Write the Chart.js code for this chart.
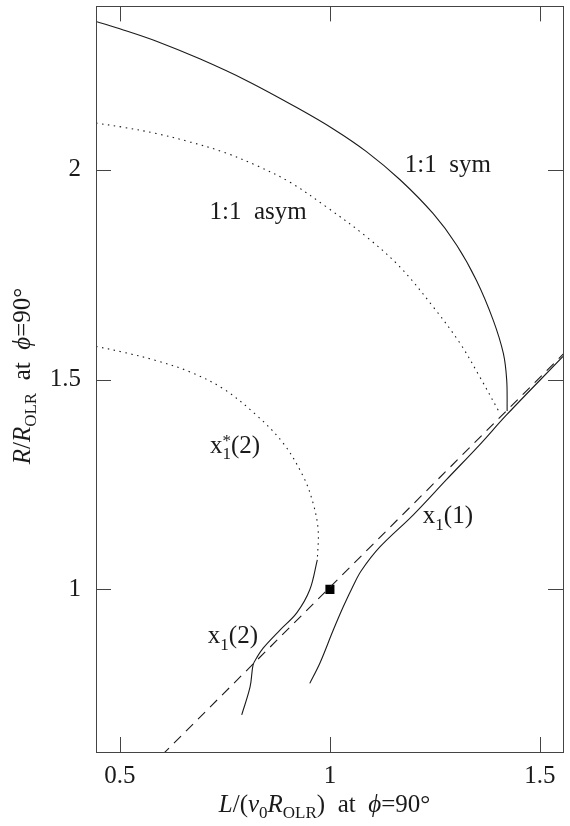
<!DOCTYPE html>
<html>
<head>
<meta charset="utf-8">
<script src="https://cdn.jsdelivr.net/npm/chart.js@4.4.1/dist/chart.umd.min.js"></script>
<style>
  html, body { margin: 0; padding: 0; background: #fff; }
  #wrap { width: 570px; height: 826px; }
</style>
</head>
<body>
<div id="wrap"><canvas id="grafico"></canvas></div>
<script>
// curvas (L/(v0 R_OLR), R/R_OLR)
const symX  = [0.443, 0.508, 0.587, 0.690, 0.802, 0.921, 1.008, 1.087, 1.167, 1.246, 1.302, 1.349, 1.389, 1.413, 1.421, 1.422];
const symY  = [2.353, 2.333, 2.306, 2.264, 2.212, 2.148, 2.097, 2.043, 1.976, 1.895, 1.820, 1.736, 1.641, 1.562, 1.498, 1.425];

const asymX = [0.443, 0.508, 0.587, 0.667, 0.746, 0.825, 0.905, 0.992, 1.087, 1.167, 1.246, 1.310, 1.357, 1.405];
const asymY = [2.111, 2.101, 2.086, 2.066, 2.042, 2.010, 1.970, 1.911, 1.840, 1.768, 1.673, 1.586, 1.506, 1.419];

const x1s2X = [0.443, 0.508, 0.587, 0.667, 0.746, 0.825, 0.889, 0.937, 0.960, 0.972, 0.970];
const x1s2Y = [1.579, 1.565, 1.545, 1.518, 1.478, 1.415, 1.348, 1.268, 1.205, 1.141, 1.070];

const x12X  = [0.970, 0.952, 0.921, 0.881, 0.841, 0.825, 0.817, 0.810, 0.790];
const x12Y  = [1.070, 0.999, 0.944, 0.903, 0.860, 0.836, 0.820, 0.768, 0.701];

const x11X  = [0.952, 0.976, 1.008, 1.032, 1.056, 1.075, 1.119, 1.198, 1.278, 1.357, 1.420, 1.555];
const x11Y  = [0.776, 0.824, 0.903, 0.959, 1.010, 1.045, 1.101, 1.177, 1.262, 1.345, 1.415, 1.555];

const diagX = [0.600, 1.560];
const diagY = [0.605, 1.565];

const puntoX = [1.0];
const puntoY = [1.0];

const xTickLabels = [0.5, 1, 1.5];
const yTickLabels = [1, 1.5, 2];

// etiquetas de las curvas
const etiquetas = [
    { x: 1.281, y: 2.015, partes: [{ t: '1:1  sym' }] },
    { x: 0.829, y: 1.901, partes: [{ t: '1:1  asym' }] },
    { x: 0.774, y: 1.344, partes: [{ t: 'x' }, { t: '1', sub: true, sup: '*' }, { t: '(2)' }] },
    { x: 1.281, y: 1.177, partes: [{ t: 'x' }, { t: '1', sub: true }, { t: '(1)' }] },
    { x: 0.769, y: 0.891, partes: [{ t: 'x' }, { t: '1', sub: true }, { t: '(2)' }] }
];

const FUENTE = '"Liberation Serif", "DejaVu Serif", serif';
const TAM = 25;
const TINTA = '#1a1a1a';

function puntos(xs, ys) {
    return xs.map((x, i) => ({ x: x, y: ys[i] }));
}

function casi(v, lista) {
    return lista.some(l => Math.abs(l - v) < 1e-6);
}

// texto con sub/superindices, centrado en cx
function textoRico(ctx, partes, cx, base, tam) {
    const fuente = p => (p.i ? 'italic ' : '') + (p.sub ? Math.round(tam * 0.68) : tam) + 'px ' + FUENTE;
    const medir = p => { ctx.font = fuente(p); return ctx.measureText(p.t).width; };
    let total = 0;
    partes.forEach(p => { total += medir(p); });
    let x = cx - total / 2;
    ctx.textAlign = 'left';
    ctx.textBaseline = 'alphabetic';
    partes.forEach(p => {
        const w = medir(p);
        ctx.font = fuente(p);
        ctx.fillText(p.t, x, base + (p.sub ? tam * 0.25 : 0));
        if (p.sup) {
            ctx.font = Math.round(tam * 0.68) + 'px ' + FUENTE;
            ctx.fillText(p.sup, x, base - tam * 0.3);
        }
        x += w;
    });
}

const pluginMarco = {
    id: 'marco',
    afterDraw(chart) {
        const ctx = chart.ctx;
        const a = chart.chartArea;
        const sx = chart.scales.x, sy = chart.scales.y;
        ctx.save();
        ctx.strokeStyle = '#444';
        ctx.lineWidth = 1;
        ctx.strokeRect(Math.round(a.left) + 0.5, Math.round(a.top) + 0.5,
            Math.round(a.right - a.left), Math.round(a.bottom - a.top));
        ctx.beginPath();
        sx.ticks.forEach(t => {
            const px = Math.round(sx.getPixelForValue(t.value)) + 0.5;
            const len = casi(t.value, xTickLabels) ? 15 : 8;
            ctx.moveTo(px, a.bottom); ctx.lineTo(px, a.bottom - len);
            ctx.moveTo(px, a.top); ctx.lineTo(px, a.top + len);
        });
        sy.ticks.forEach(t => {
            const py = Math.round(sy.getPixelForValue(t.value)) + 0.5;
            const len = casi(t.value, yTickLabels) ? 15 : 8;
            ctx.moveTo(a.left, py); ctx.lineTo(a.left + len, py);
            ctx.moveTo(a.right, py); ctx.lineTo(a.right - len, py);
        });
        ctx.stroke();

        // etiquetas de curvas
        ctx.fillStyle = TINTA;
        etiquetas.forEach(e => {
            const cx = sx.getPixelForValue(e.x);
            const cy = sy.getPixelForValue(e.y);
            textoRico(ctx, e.partes, cx, cy + TAM * 0.33, TAM);
        });

        // titulos de ejes
        const tituloX = [
            { t: 'L', i: true }, { t: '/(' }, { t: 'v', i: true }, { t: '0', sub: true },
            { t: 'R', i: true }, { t: 'OLR', sub: true }, { t: ')  at  ' }, { t: 'ϕ', i: true }, { t: '=90°' }
        ];
        textoRico(ctx, tituloX, (a.left + a.right) / 2 - 5, 812, TAM);

        const tituloY = [
            { t: 'R', i: true }, { t: '/' }, { t: 'R', i: true }, { t: 'OLR', sub: true },
            { t: '  at  ' }, { t: 'ϕ', i: true }, { t: '=90°' }
        ];
        ctx.translate(30, 376);
        ctx.rotate(-Math.PI / 2);
        textoRico(ctx, tituloY, 0, 0, TAM);
        ctx.restore();
    }
};

let grafico;

function inicializarGrafico() {
    const ctx = document.getElementById('grafico');
    const linea = { showLine: true, pointRadius: 0, borderWidth: 1.1, borderColor: TINTA, tension: 0.35, fill: false };

    grafico = new Chart(ctx, {
        type: 'scatter',
        data: {
            datasets: [
                Object.assign({ label: '1:1 sym', data: puntos(symX, symY) }, linea),
                Object.assign({ label: '1:1 asym', data: puntos(asymX, asymY), borderDash: [1.5, 4.5] }, linea),
                Object.assign({ label: 'x1*(2)', data: puntos(x1s2X, x1s2Y), borderDash: [1.5, 4.5] }, linea),
                Object.assign({ label: 'x1(2)', data: puntos(x12X, x12Y) }, linea),
                Object.assign({ label: 'x1(1)', data: puntos(x11X, x11Y) }, linea),
                Object.assign({}, linea, { label: 'R = L', data: puntos(diagX, diagY), tension: 0, borderDash: [10, 7] }),
                {
                    label: 'punto', data: puntos(puntoX, puntoY), pointStyle: 'rect',
                    pointRadius: 6.4, backgroundColor: '#000', borderColor: '#000', borderWidth: 0
                }
            ]
        },
        options: {
            responsive: true,
            maintainAspectRatio: false,
            animation: false,
            layout: { padding: { left: 0, right: 7, top: 6, bottom: 0 } },
            plugins: {
                legend: { display: false },
                tooltip: { enabled: false }
            },
            scales: {
                x: {
                    type: 'linear',
                    min: 0.443,
                    max: 1.555,
                    grid: { display: false, drawTicks: false },
                    border: { display: false },
                    ticks: {
                        stepSize: 0.1,
                        includeBounds: false,
                        autoSkip: false,
                        maxRotation: 0,
                        padding: 9,
                        color: TINTA,
                        font: { family: FUENTE, size: TAM },
                        callback: v => casi(v, xTickLabels) ? String(v) : null
                    },
                    afterFit: s => { s.height = 74; s.paddingLeft = 0; s.paddingRight = 0; }
                },
                y: {
                    type: 'linear',
                    min: 0.6125,
                    max: 2.389,
                    grid: { display: false, drawTicks: false },
                    border: { display: false },
                    ticks: {
                        stepSize: 0.1,
                        includeBounds: false,
                        autoSkip: false,
                        padding: 15,
                        color: TINTA,
                        font: { family: FUENTE, size: TAM },
                        callback: v => casi(v, yTickLabels) ? String(v) : null
                    },
                    afterFit: s => { s.width = 96; s.paddingTop = 0; s.paddingBottom = 0; }
                }
            }
        },
        plugins: [pluginMarco]
    });
}

document.addEventListener('DOMContentLoaded', inicializarGrafico);
</script>
</body>
</html>
